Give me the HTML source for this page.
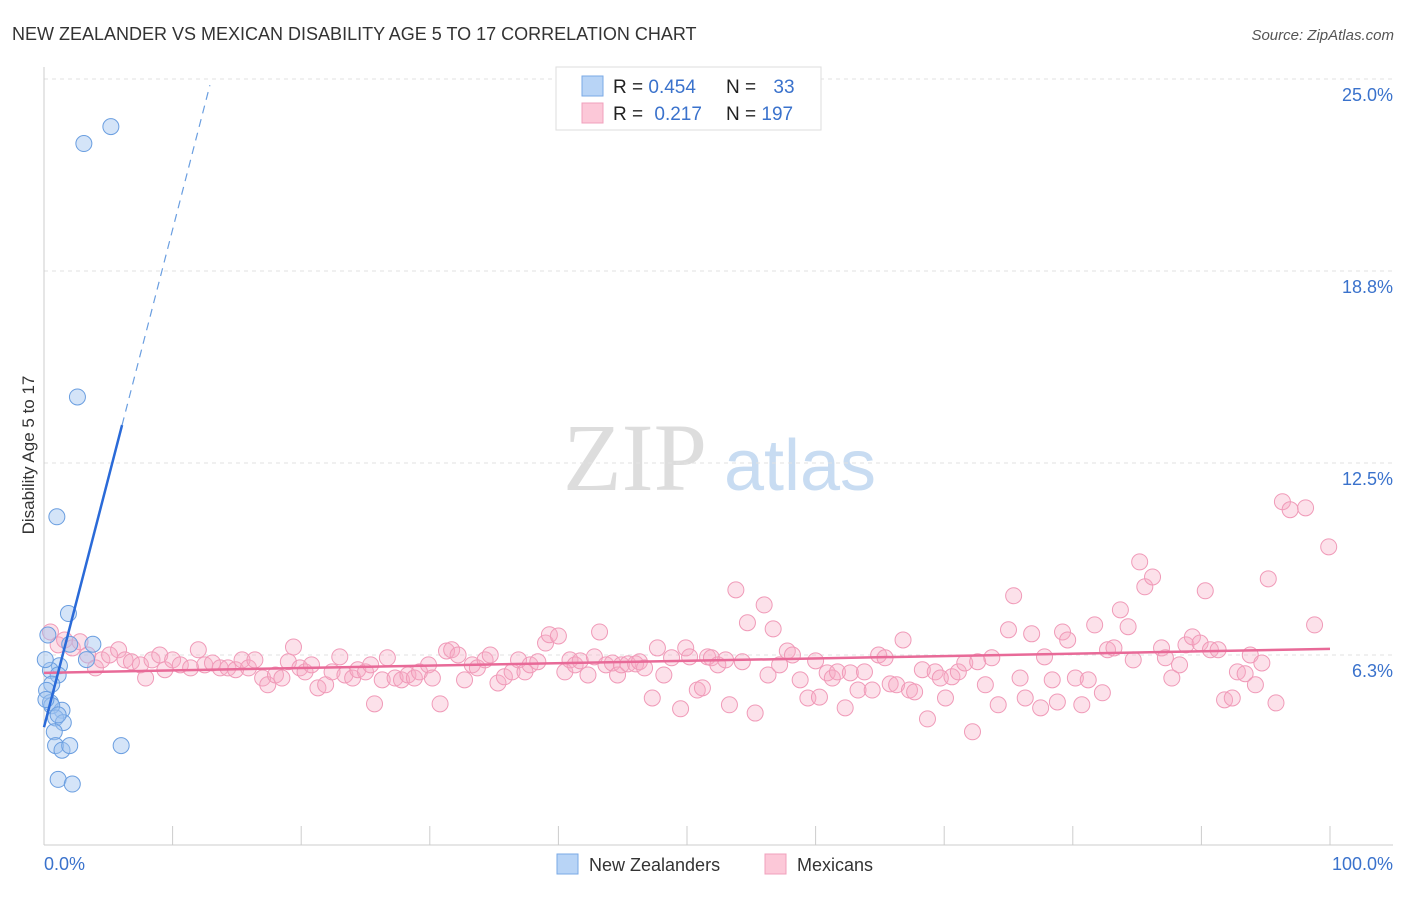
<!DOCTYPE html>
<html><head><meta charset="utf-8">
<style>
body{margin:0;background:#fff;font-family:"Liberation Sans",sans-serif;}
svg text{font-family:"Liberation Sans",sans-serif;}
</style></head>
<body>
<svg id="chart" width="1406" height="892" xmlns="http://www.w3.org/2000/svg">
<text x="12" y="40" font-size="18" fill="#333">NEW ZEALANDER VS MEXICAN DISABILITY AGE 5 TO 17 CORRELATION CHART</text>
<text x="1394" y="40" font-size="15" fill="#555" font-style="italic" text-anchor="end">Source: ZipAtlas.com</text>
<text transform="translate(34,455) rotate(-90)" font-size="17" fill="#333" text-anchor="middle">Disability Age 5 to 17</text>
<g>
<text x="635" y="490" font-size="96" fill="#ddd" font-family="Liberation Serif" text-anchor="middle" style="font-family:'Liberation Serif',serif">ZIP</text>
<text x="800" y="490" font-size="72" fill="#c8dcf2" text-anchor="middle">atlas</text>
</g>
<g id="grid"></g>
<g id="axes"></g>
<g id="marks"></g>
<g>
<rect x="556" y="67" width="265" height="63" fill="#fff" stroke="#ddd"/>
<rect x="582" y="76" width="21" height="20" fill="#b8d4f6" stroke="#7aaae6"/>
<rect x="582" y="103" width="21" height="20" fill="#fcc8d8" stroke="#f0a0bc"/>
<text x="613" y="93" font-size="19" fill="#222">R = <tspan fill="#3a72cc">0.454</tspan></text>
<text x="726" y="93" font-size="19" fill="#222">N = <tspan fill="#3a72cc" dx="12">33</tspan></text>
<text x="613" y="120" font-size="19" fill="#222">R = <tspan fill="#3a72cc" dx="6">0.217</tspan></text>
<text x="726" y="120" font-size="19" fill="#222">N = <tspan fill="#3a72cc">197</tspan></text>
</g>
<g>
<rect x="557" y="854" width="21" height="20" fill="#b8d4f6" stroke="#7aaae6"/>
<text x="589" y="871" font-size="18" fill="#333">New Zealanders</text>
<rect x="765" y="854" width="21" height="20" fill="#fcc8d8" stroke="#f0a0bc"/>
<text x="797" y="871" font-size="18" fill="#333">Mexicans</text>
</g>
</svg>
<script>
const yTicks=[6.25,12.5,18.75,25];
const yTickLabels=["6.3%","12.5%","18.8%","25.0%"];
const xTickVals=[0,10,20,30,40,50,60,70,80,90,100];
const blueX=[5.2,3.1,2.6,1.0,1.9,0.3,2.0,3.8,3.3,1.2,0.5,1.1,0.6,0.2,0.5,1.4,0.6,0.9,1.5,1.1,0.8,0.9,1.4,2.0,6.0,1.1,2.2,0.1,0.15];
const blueY=[23.45,22.9,14.65,10.75,7.6,6.9,6.6,6.6,6.1,5.9,5.75,5.6,5.3,5.1,4.7,4.45,4.6,4.2,4.05,4.3,3.75,3.3,3.15,3.3,3.3,2.2,2.05,6.1,4.8];
const pinkX=[0.5,1.1,1.6,2.2,2.8,3.4,4.0,4.5,5.1,5.8,6.3,6.8,7.5,7.9,8.4,9.0,9.4,10.0,10.6,11.4,12.0,12.5,13.1,13.7,14.3,14.9,15.4,15.9,16.4,17.0,17.4,18.0,18.5,19.0,19.4,19.9,20.3,20.8,21.3,21.9,22.4,23.0,23.4,24.0,24.4,25.0,25.4,25.7,26.3,26.7,27.3,27.8,28.3,28.8,29.2,29.9,30.2,30.8,31.3,31.7,32.2,32.7,33.3,33.7,34.3,34.7,35.3,35.8,36.4,36.9,37.4,37.8,38.4,39.0,39.3,40.0,40.5,40.9,41.3,41.7,42.3,42.8,43.2,43.7,44.2,44.6,44.9,45.4,46.0,46.3,46.7,47.3,47.7,48.2,48.8,49.5,49.9,50.2,50.8,51.2,51.6,51.9,52.4,53.0,53.3,53.8,54.3,54.7,55.3,56.0,56.3,56.7,57.2,57.8,58.2,58.8,59.4,60.0,60.3,60.9,61.3,61.7,62.3,62.7,63.3,63.8,64.4,64.9,65.4,65.8,66.3,66.8,67.3,67.7,68.3,68.7,69.3,69.7,70.1,70.6,71.1,71.6,72.2,72.6,73.2,73.7,74.2,75.0,75.4,75.9,76.3,76.8,77.5,77.8,78.4,78.8,79.2,79.6,80.2,80.7,81.2,81.7,82.3,82.7,83.2,83.7,84.3,84.7,85.2,85.6,86.2,86.9,87.2,87.7,88.3,88.8,89.3,89.9,90.3,90.7,91.3,91.8,92.4,92.8,93.4,93.8,94.2,94.7,95.2,95.8,96.3,96.9,98.1,98.8,99.9];
const pinkY=[7.0,6.58,6.74,6.48,6.68,6.25,5.83,6.09,6.25,6.42,6.09,6.03,5.93,5.5,6.09,6.25,5.77,6.09,5.93,5.83,6.42,5.93,5.99,5.83,5.83,5.77,6.09,5.83,6.09,5.5,5.28,5.6,5.5,6.03,6.51,5.83,5.7,5.93,5.18,5.28,5.7,6.19,5.6,5.5,5.77,5.7,5.93,4.66,5.44,6.16,5.5,5.44,5.6,5.5,5.7,5.93,5.5,4.66,6.38,6.42,6.25,5.44,5.93,5.83,6.09,6.25,5.34,5.54,5.7,6.09,5.7,5.93,6.03,6.64,6.91,6.87,5.7,6.09,5.93,6.06,5.6,6.19,7.0,5.93,5.99,5.6,5.93,5.96,5.96,6.03,5.83,4.85,6.48,5.6,6.16,4.5,6.48,6.19,5.11,5.18,6.19,6.16,5.93,6.09,4.63,8.37,6.03,7.3,4.36,7.88,5.6,7.1,5.93,6.38,6.25,5.44,4.85,6.06,4.88,5.67,5.5,5.7,4.53,5.67,5.11,5.7,5.11,6.25,6.16,5.31,5.28,6.74,5.11,5.05,5.77,4.17,5.7,5.5,4.85,5.54,5.7,5.99,3.75,6.03,5.28,6.16,4.63,7.07,8.18,5.5,4.85,6.94,4.53,6.19,5.44,4.72,7.0,6.74,5.5,4.63,5.44,7.23,5.02,6.42,6.48,7.72,7.17,6.09,9.28,8.47,8.79,6.48,6.16,5.5,5.93,6.58,6.84,6.64,8.34,6.42,6.42,4.79,4.85,5.7,5.64,6.25,5.28,5.99,8.73,4.69,11.24,10.98,11.04,7.23,9.77];
const blueTrend=[3.9,1.62];
const blueSolidEnd=6.07,blueDashEnd=12.9;
const pinkTrend=[5.67,6.45];

const NS="http://www.w3.org/2000/svg";
const X0=44,X1=1330,YB=847,YT=79;
const sx=v=>X0+(X1-X0)*v/100;
const sy=v=>YB-(YB-YT)*v/25;
function mk(tag,attrs,parent){const e=document.createElementNS(NS,tag);for(const k in attrs)e.setAttribute(k,attrs[k]);parent.appendChild(e);return e;}
const grid=document.getElementById('grid'),axes=document.getElementById('axes'),marks=document.getElementById('marks');
yTicks.forEach((t,i)=>{
  const l=mk('line',{x1:X0,x2:1393,y1:sy(t),y2:sy(t),stroke:'#e2e2e2','stroke-dasharray':'4,4'},grid);
  
  
  const tx=mk('text',{x:1393,y:sy(t)+22,'font-size':18,fill:'#3a72cc','text-anchor':'end'},axes);
  tx.textContent=yTickLabels[i];
  
  
});
const ya=mk('line',{x1:X0,x2:X0,y1:67,y2:845,stroke:'#ccc'},axes);


const xa=mk('line',{x1:X0,x2:1393,y1:845,y2:845,stroke:'#ccc'},axes);


xTickVals.forEach(v=>{
  const t=mk('line',{x1:sx(v),x2:sx(v),y1:826,y2:845,stroke:'#ccc'},axes);
  
  
});
const xl0=mk('text',{x:44,y:870,'font-size':18,fill:'#3a72cc'},axes);xl0.textContent='0.0%';


const xl1=mk('text',{x:1393,y:870,'font-size':18,fill:'#3a72cc','text-anchor':'end'},axes);xl1.textContent='100.0%';



pinkX.forEach((x,i)=>{
  const c=mk('circle',{cx:sx(x),cy:sy(pinkY[i]),r:8,fill:'rgba(246,170,196,0.35)',stroke:'#f09ab8','stroke-width':1},marks);
  
  
});
blueX.forEach((x,i)=>{
  const c=mk('circle',{cx:sx(x),cy:sy(blueY[i]),r:8,fill:'rgba(160,196,240,0.45)',stroke:'#6a9ee0','stroke-width':1},marks);
  
  
});
const pt=mk('line',{x1:sx(0),y1:sy(pinkTrend[0]),x2:sx(100),y2:sy(pinkTrend[1]),stroke:'#e86a98','stroke-width':2.5},marks);


const bt=mk('line',{x1:sx(0),y1:sy(blueTrend[0]),x2:sx(blueSolidEnd),y2:sy(blueTrend[0]+blueTrend[1]*blueSolidEnd),stroke:'#2a6ad8','stroke-width':2.5},marks);


const bd=mk('line',{x1:sx(blueSolidEnd),y1:sy(blueTrend[0]+blueTrend[1]*blueSolidEnd),x2:sx(blueDashEnd),y2:sy(blueTrend[0]+blueTrend[1]*blueDashEnd),stroke:'#6a9ee0','stroke-width':1.2,'stroke-dasharray':'8,6'},marks);


</script>
</body></html>
